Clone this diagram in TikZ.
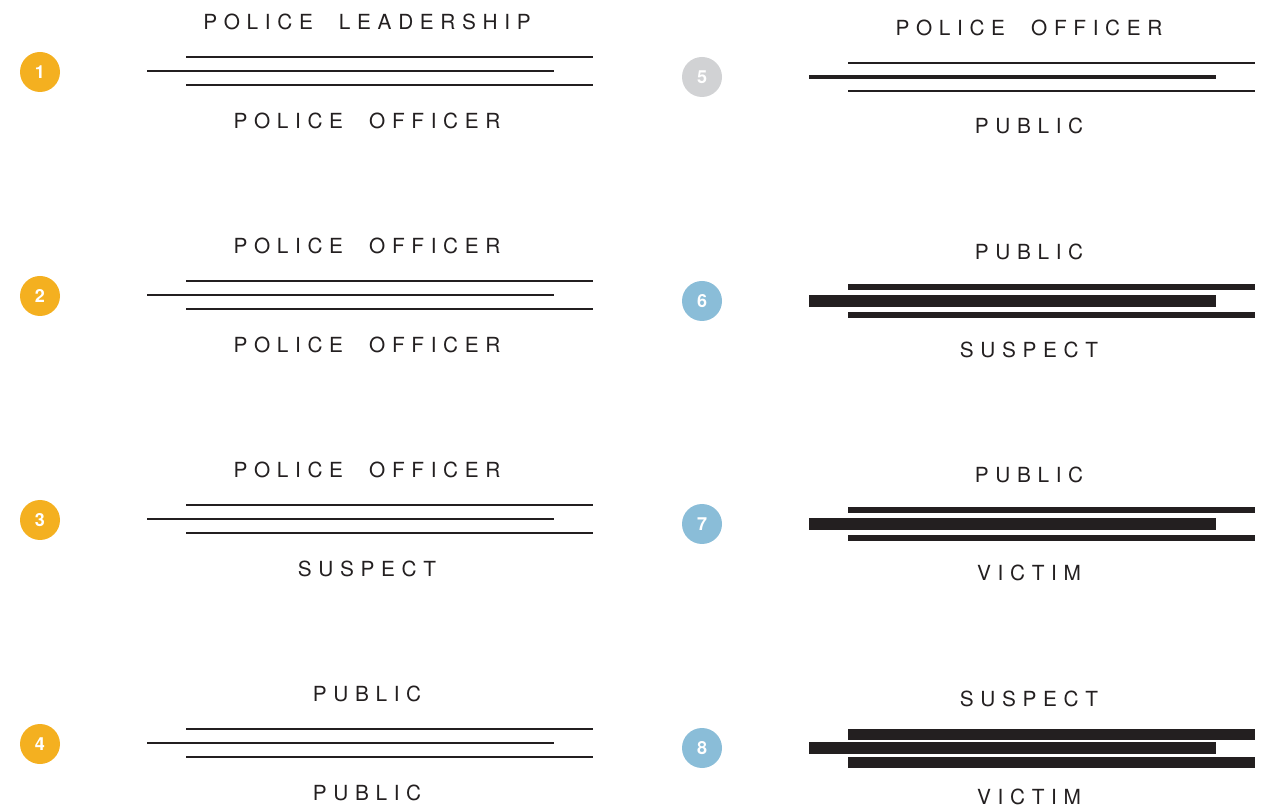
\documentclass[tikz,border=0pt]{standalone}
\usepackage{fontspec}
\newfontfamily\lblfont[LetterSpace=32,WordSpace=2.1]{TeX Gyre Heros}
\newfontfamily\numfont{TeX Gyre Heros}
\definecolor{inkcol}{RGB}{35,31,32}
\definecolor{orgcol}{RGB}{244,176,32}
\definecolor{grycol}{RGB}{209,210,212}
\definecolor{blucol}{RGB}{138,189,216}

\begin{document}
\begin{tikzpicture}[
  x=0.5pt, y=-0.5pt,
  badge/.style={circle, fill=#1, minimum size=20pt, inner sep=0pt,
                text=white, font=\numfont\bfseries\fontsize{9}{9}\selectfont},
  lbl/.style={inner sep=0pt, text=inkcol, font=\lblfont\fontsize{10.4}{12}\selectfont},
  bar/.style={draw=inkcol, line width=#1},
]
  \useasboundingbox (0,0) rectangle (1264,807);

  % Column 1: thin lines
  \foreach \i/\y/\uptxt/\dntxt in {1/71/POLICE LEADERSHIP/POLICE OFFICER,
                                   2/295/POLICE OFFICER/POLICE OFFICER,
                                   3/519/POLICE OFFICER/SUSPECT,
                                   4/743/PUBLIC/PUBLIC} {
    \node[badge=orgcol] (n\i) at (40,\y+1) {\i};
    \node[lbl] (up\i) at (367,\y-49) {\uptxt};
    \node[lbl] (dn\i) at (367,\y+50) {\dntxt};
    \draw[bar=0.65pt] (186,\y-14) -- (593,\y-14);
    \draw[bar=0.65pt] (147,\y) -- (554,\y);
    \draw[bar=0.65pt] (186,\y+14) -- (593,\y+14);
  }

  % Column 2: heavier lines
  \foreach \i/\y/\col/\wo/\wm/\uptxt/\dntxt in {5/77/grycol/0.55pt/2pt/POLICE OFFICER/PUBLIC,
                                                6/301/blucol/3pt/6.2pt/PUBLIC/SUSPECT,
                                                7/524/blucol/3pt/6.2pt/PUBLIC/VICTIM,
                                                8/748/blucol/5.5pt/6pt/SUSPECT/VICTIM} {
    \node[badge=\col] (n\i) at (702,\y) {\i};
    \node[lbl] (up\i) at (1029,\y-49) {\uptxt};
    \node[lbl] (dn\i) at (1029,\y+49) {\dntxt};
    \draw[bar=\wo] (848,\y-14) -- (1255,\y-14);
    \draw[bar=\wm] (809,\y) -- (1216,\y);
    \draw[bar=\wo] (848,\y+14) -- (1255,\y+14);
  }

\end{tikzpicture}
\end{document}
